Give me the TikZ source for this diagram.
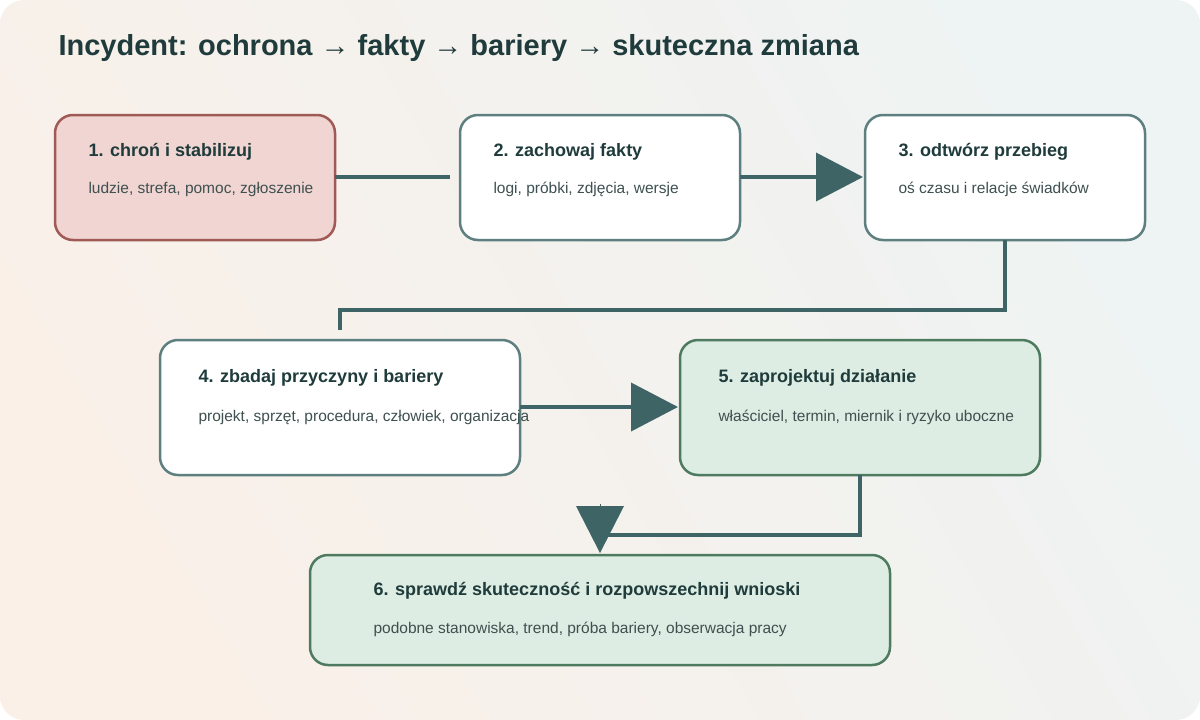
\documentclass[tikz,border=0pt]{standalone}
\usepackage{fontspec}
\setmainfont{Liberation Sans}
\usetikzlibrary{arrows.meta}
\definecolor{bgA}{HTML}{EEF3F3}\definecolor{bgB}{HTML}{FAF0E8}
\definecolor{ttl}{HTML}{1F3B3B}\definecolor{sub}{HTML}{3F5050}
\definecolor{ln}{HTML}{3E6466}
\definecolor{rF}{HTML}{F0D5D2}\definecolor{rB}{HTML}{A05A55}
\definecolor{wB}{HTML}{5E7F80}
\definecolor{gF}{HTML}{DDEDE3}\definecolor{gB}{HTML}{4E7A60}
\begin{document}
\begin{tikzpicture}[x=1pt,y=-1pt,
 box/.style={draw=wB,fill=white,line width=2.5pt,rounded corners=18pt},
 red/.style={box,draw=rB,fill=rF},
 grn/.style={box,draw=gB,fill=gF},
 ht/.style={anchor=west,text=ttl,font=\bfseries\fontsize{18}{20}\selectfont},
 st/.style={anchor=west,text=sub,font=\fontsize{15.5}{18}\selectfont},
 con/.style={draw=ln,line width=4pt},
 arr/.style={con,-{Triangle[length=47pt,width=48pt]}}]
\useasboundingbox (0,0) rectangle (1200,720);
\shade[left color=bgA,right color=bgB,rounded corners=24pt,shading angle=-60] (0,0) rectangle (1200,720);
\node[anchor=west,text=ttl,font=\bfseries\fontsize{29}{32}\selectfont] (title) at (55,48) {Incydent: ochrona → fakty → bariery → skuteczna zmiana};
\draw[red] (55,115) rectangle (335,240);
\draw[box] (460,115) rectangle (740,240);
\draw[box] (865,115) rectangle (1145,240);
\draw[box] (160,340) rectangle (520,475);
\draw[grn] (680,340) rectangle (1040,475);
\draw[grn] (310,555) rectangle (890,665);
\coordinate (b1) at (335,177); \coordinate (b2w) at (450,177);
\coordinate (b2) at (740,177); \coordinate (b3w) at (863,177);
\coordinate (b3) at (1005,240); \coordinate (b4n) at (340,330);
\coordinate (b4) at (520,407); \coordinate (b5w) at (678,407);
\coordinate (b5) at (860,475); \coordinate (b6n) at (600,553);
\draw[con] (b1) -- (b2w);
\draw[arr] (b2) -- (b3w);
\draw[con] (b3) |- (340,310) -- (b4n);
\draw[arr] (b4) -- (b5w);
\draw[con] (b5) |- (600,535);
\draw[arr,line width=0pt] (600,504.9) -- (b6n);
\node[ht] (t1) at (85,152) {1. chroń i stabilizuj};
\node[st] (s1) at (85,189) {ludzie, strefa, pomoc, zgłoszenie};
\node[ht] (t2) at (490,152) {2. zachowaj fakty};
\node[st] (s2) at (490,189) {logi, próbki, zdjęcia, wersje};
\node[ht] (t3) at (895,152) {3. odtwórz przebieg};
\node[st] (s3) at (895,189) {oś czasu i relacje świadków};
\node[ht] (t4) at (195,378) {4. zbadaj przyczyny i bariery};
\node[st] (s4) at (195,417) {projekt, sprzęt, procedura, człowiek, organizacja};
\node[ht] (t5) at (715,378) {5. zaprojektuj działanie};
\node[st] (s5) at (715,417) {właściciel, termin, miernik i ryzyko uboczne};
\node[ht] (t6) at (370,591) {6. sprawdź skuteczność i rozpowszechnij wnioski};
\node[st] (s6) at (370,629) {podobne stanowiska, trend, próba bariery, obserwacja pracy};
\end{tikzpicture}
\end{document}
